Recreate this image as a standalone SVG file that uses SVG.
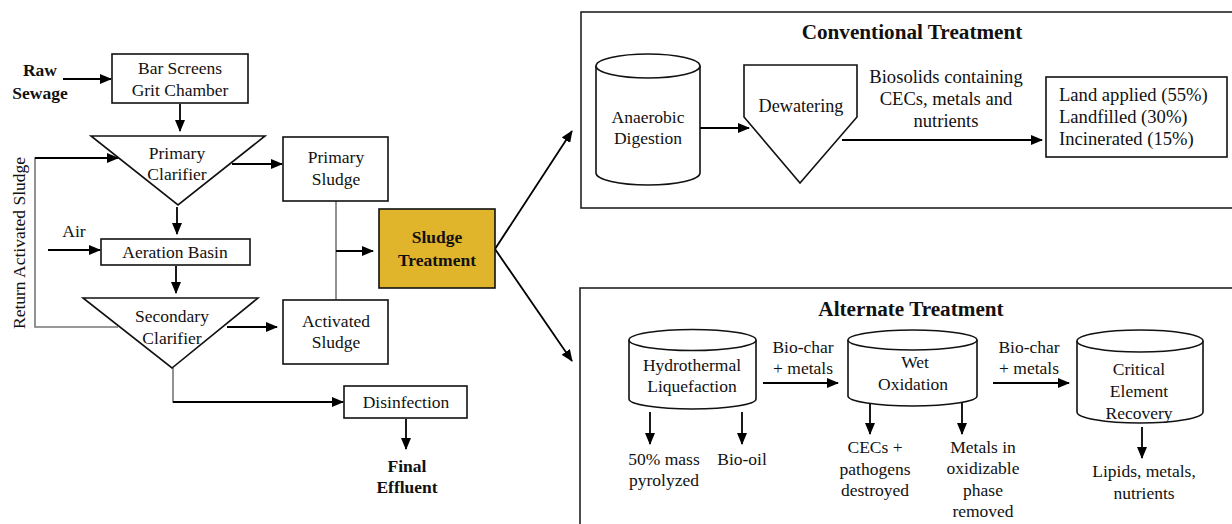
<svg xmlns="http://www.w3.org/2000/svg" width="1232" height="524" viewBox="0 0 1232 524" font-family="'Liberation Serif', 'DejaVu Serif', serif">
<defs>
<marker id="ah" markerUnits="userSpaceOnUse" markerWidth="12" markerHeight="10" refX="11" refY="5" orient="auto">
<path d="M0,0 L12,5 L0,10 z" fill="#000"/>
</marker>
<style>
text{font-family:'Liberation Serif','DejaVu Serif',serif;font-size:17.5px;fill:#111;text-anchor:middle}
.b{font-weight:bold}
.t{font-weight:bold;font-size:21.2px}
.m{font-size:18.6px}
.l{text-anchor:start}
.box{fill:#fff;stroke:#111;stroke-width:1.6}
.big{fill:#fff;stroke:#222;stroke-width:1.6}
.ar{fill:none;stroke:#000;stroke-width:1.8;marker-end:url(#ah)}
.gl{fill:none;stroke:#777;stroke-width:1.6}
</style>
</defs>
<rect width="1232" height="524" fill="#fff"/>

<g id="conventional-frame">
<rect class="big" x="581" y="12" width="700" height="196"/>
<text class="t" x="912" y="39">Conventional Treatment</text>
</g>
<g id="alternate-frame">
<rect class="big" x="580" y="288" width="700" height="300"/>
<text class="t" x="911" y="316">Alternate Treatment</text>
</g>

<g id="connectors">
<line class="ar" x1="63" y1="79" x2="111" y2="79"/>
<line class="ar" x1="180" y1="104" x2="180" y2="131"/>
<polyline class="gl" points="118,327 35,327 35,158 60,158"/>
<line class="ar" x1="35" y1="158" x2="118" y2="158"/>
<line class="ar" x1="177" y1="207" x2="177" y2="234"/>
<line class="ar" x1="48" y1="250" x2="100" y2="250"/>
<line class="ar" x1="176" y1="266" x2="176" y2="293"/>
<line class="ar" x1="232" y1="164" x2="282" y2="164"/>
<line class="ar" x1="227" y1="327" x2="277" y2="327"/>
<line class="gl" x1="336" y1="201" x2="336" y2="300"/>
<line class="ar" x1="336" y1="251" x2="373" y2="251"/>
<line class="ar" x1="495" y1="249" x2="572" y2="131"/>
<line class="ar" x1="495" y1="249" x2="572" y2="361"/>
<polyline class="gl" points="173,368 173,402 200,402"/>
<line class="ar" x1="173" y1="402" x2="343" y2="402"/>
<line class="ar" x1="406" y1="419" x2="406" y2="449"/>
<line class="ar" x1="700" y1="128" x2="749" y2="128"/>
<line class="ar" x1="842" y1="140" x2="1042" y2="140"/>
<line class="ar" x1="650" y1="412" x2="650" y2="444"/>
<line class="ar" x1="742" y1="412" x2="742" y2="444"/>
<line class="ar" x1="763" y1="383" x2="838" y2="383"/>
<line class="ar" x1="870" y1="403" x2="870" y2="434"/>
<line class="ar" x1="962" y1="403" x2="962" y2="434"/>
<line class="ar" x1="993" y1="383" x2="1069" y2="383"/>
<line class="ar" x1="1142" y1="427" x2="1142" y2="458"/>
</g>

<g id="raw-sewage">
<text class="b" x="40" y="76">Raw</text>
<text class="b" x="40" y="99">Sewage</text>
</g>
<g id="return-label">
<text transform="translate(25,243) rotate(-90)">Return Activated Sludge</text>
</g>
<g id="air-label">
<text x="74" y="237">Air</text>
</g>
<g id="bar-screens">
<rect class="box" x="112" y="54" width="136" height="49"/>
<text x="180" y="74">Bar Screens</text>
<text x="180" y="96">Grit Chamber</text>
</g>
<g id="primary-clarifier">
<polygon class="box" points="91,136 265,136 178,205"/>
<text x="177" y="159">Primary</text>
<text x="177" y="180">Clarifier</text>
</g>
<g id="aeration-basin">
<rect class="box" x="101" y="239" width="149" height="26"/>
<text x="175" y="258">Aeration Basin</text>
</g>
<g id="secondary-clarifier">
<polygon class="box" points="83,298 258,298 172,368"/>
<text x="172" y="322">Secondary</text>
<text x="172" y="344">Clarifier</text>
</g>
<g id="primary-sludge">
<rect class="box" x="283" y="137" width="105" height="64"/>
<text x="336" y="163">Primary</text>
<text x="336" y="185">Sludge</text>
</g>
<g id="activated-sludge">
<rect class="box" x="283" y="300" width="105" height="64"/>
<text x="336" y="327">Activated</text>
<text x="336" y="348">Sludge</text>
</g>
<g id="sludge-treatment">
<rect x="379" y="209" width="116" height="79" fill="#E1B52B" stroke="#111" stroke-width="1.6"/>
<text class="b" x="437" y="243">Sludge</text>
<text class="b" x="437" y="266">Treatment</text>
</g>
<g id="disinfection">
<rect class="box" x="344" y="386" width="123" height="32"/>
<text x="406" y="408">Disinfection</text>
</g>
<g id="final-effluent">
<text class="b" x="407" y="472">Final</text>
<text class="b" x="407" y="493">Effluent</text>
</g>

<g id="anaerobic-digestion">
<path class="box" d="M596,66 L596,173 A52,12 0 0 0 700,173 L700,66"/>
<ellipse class="box" cx="648" cy="66" rx="52" ry="12"/>
<text x="648" y="123">Anaerobic</text>
<text x="648" y="144">Digestion</text>
</g>
<g id="dewatering">
<polygon class="box" points="744,65 857,65 857,117 800,183 744,117"/>
<text x="801" y="112" style="font-size:18.2px">Dewatering</text>
</g>
<g id="biosolids-label">
<text class="m" x="946" y="83">Biosolids containing</text>
<text class="m" x="946" y="105">CECs, metals and</text>
<text class="m" x="946" y="127">nutrients</text>
</g>
<g id="disposal">
<rect class="box" x="1046" y="77" width="181" height="80"/>
<text class="l m" x="1059" y="101">Land applied (55%)</text>
<text class="l m" x="1059" y="123">Landfilled (30%)</text>
<text class="l m" x="1059" y="145">Incinerated (15%)</text>
</g>

<g id="hydrothermal-liquefaction">
<path class="box" d="M629,340 L629,399 A63.5,10 0 0 0 756,399 L756,340"/>
<ellipse class="box" cx="692.5" cy="340" rx="63.5" ry="10.5"/>
<text x="692" y="371">Hydrothermal</text>
<text x="692" y="392">Liquefaction</text>
</g>
<g id="htl-outputs">
<text x="664" y="465">50% mass</text>
<text x="664" y="486">pyrolyzed</text>
<text x="742" y="465">Bio-oil</text>
</g>
<g id="biochar-label-1">
<text x="803" y="353">Bio-char</text>
<text x="803" y="374">+ metals</text>
</g>
<g id="wet-oxidation">
<path class="box" d="M848,340 L848,396 A64.5,10 0 0 0 977,396 L977,340"/>
<ellipse class="box" cx="912.5" cy="340" rx="64.5" ry="10"/>
<text x="915" y="368">Wet</text>
<text x="913" y="390">Oxidation</text>
</g>
<g id="wo-outputs">
<text x="875" y="453">CECs +</text>
<text x="875" y="475">pathogens</text>
<text x="875" y="496">destroyed</text>
<text x="983" y="453">Metals in</text>
<text x="983" y="474">oxidizable</text>
<text x="983" y="496">phase</text>
<text x="983" y="517">removed</text>
</g>
<g id="biochar-label-2">
<text x="1029" y="353">Bio-char</text>
<text x="1029" y="374">+ metals</text>
</g>
<g id="critical-element-recovery">
<path class="box" d="M1077,341 L1077,412 A63,11 0 0 0 1203,412 L1203,341"/>
<ellipse class="box" cx="1140" cy="341" rx="63" ry="11"/>
<text x="1139" y="375">Critical</text>
<text x="1139" y="397">Element</text>
<text x="1139" y="419">Recovery</text>
</g>
<g id="cer-outputs">
<text x="1144" y="477">Lipids, metals,</text>
<text x="1144" y="499">nutrients</text>
</g>
</svg>
